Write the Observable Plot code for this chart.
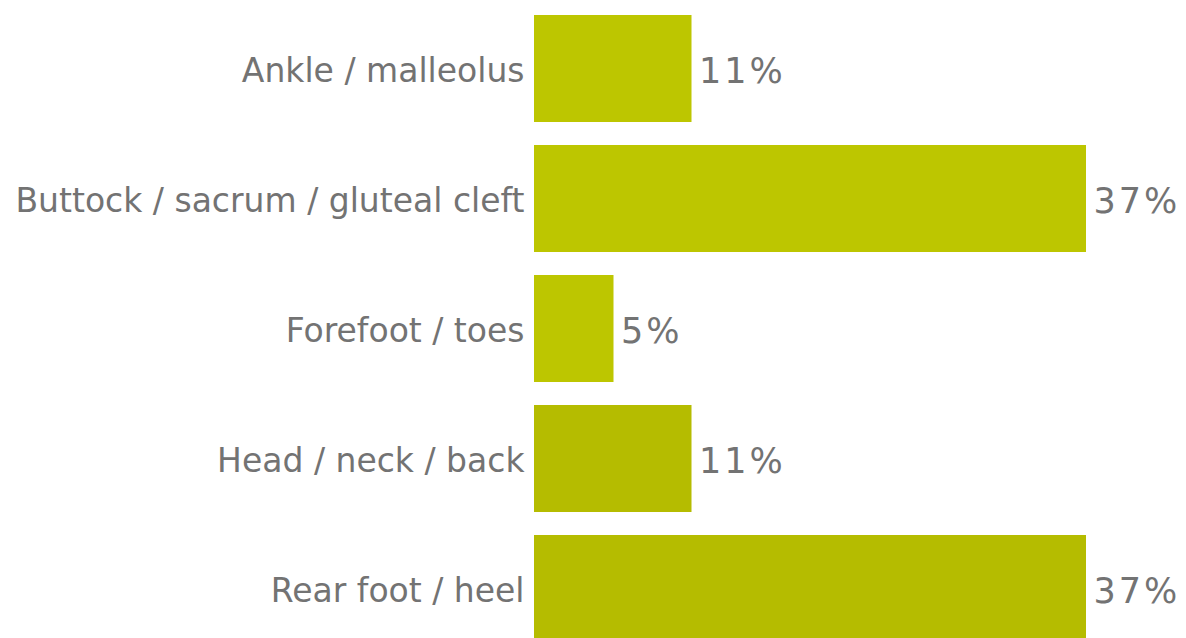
<!DOCTYPE html>
<html>
<head>
<meta charset="utf-8">
<script src="https://cdn.jsdelivr.net/npm/d3@7"></script>
<script src="https://cdn.jsdelivr.net/npm/@observablehq/plot@0.6"></script>
<style>
  html, body { margin: 0; padding: 0; background: #fff; overflow: hidden; }
  .values text { letter-spacing: 3px; }
</style>
</head>
<body>
<div id="chart"></div>
<script>
const categories = ["Ankle / malleolus", "Buttock / sacrum / gluteal cleft", "Forefoot / toes", "Head / neck / back", "Rear foot / heel"];
const values = [10.5, 36.8, 5.3, 10.5, 36.8];
const valueLabels = ["11%", "37%", "5%", "11%", "37%"];
const barColors = ["#bdc600", "#bdc600", "#bdc600", "#b5bc00", "#b5bc00"];

const data = categories.map((c, i) => ({category: c, value: values[i], label: valueLabels[i], color: barColors[i]}));

const chart = Plot.plot({
  width: 1186,
  height: 644,
  marginTop: 13,
  marginBottom: 0,
  marginLeft: 534,
  marginRight: 100,
  style: {fontFamily: "DejaVu Sans", fontSize: "33px", color: "#737373", background: "#fff"},
  x: {domain: [0, 36.8], axis: null},
  y: {domain: categories, paddingInner: 0.18, paddingOuter: 0, label: null},
  marks: [
    Plot.barX(data, {x: "value", y: "category", fill: "color"}),
    Plot.text(data, {x: "value", y: "category", text: "label", textAnchor: "start", dx: 7, dy: 3, fill: "#737373", fontSize: 35, className: "values"}),
    Plot.axisY({tickSize: 0, tickPadding: 10, dy: 2, label: null, fontSize: 33, color: "#737373"})
  ]
});
document.getElementById("chart").appendChild(chart);
</script>
</body>
</html>
